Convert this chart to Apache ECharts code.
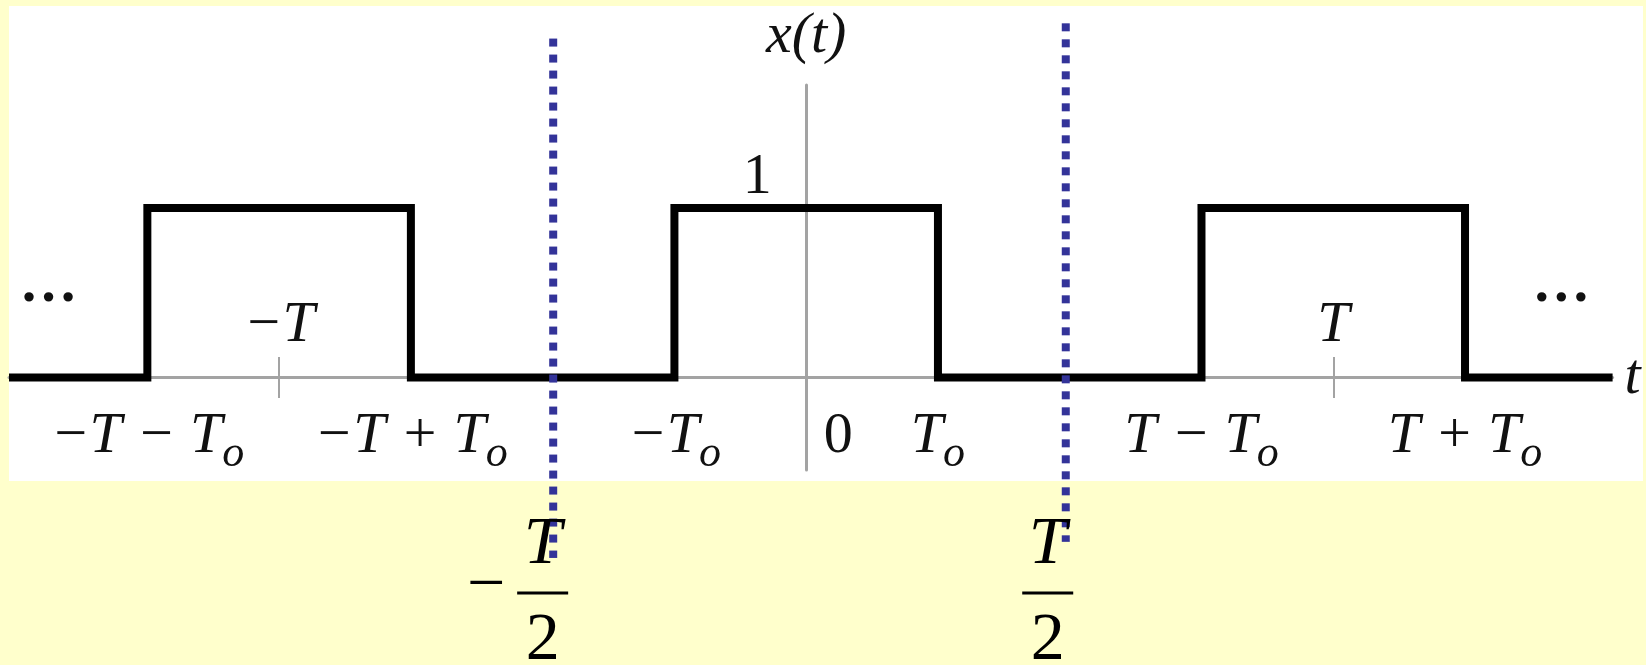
<!DOCTYPE html>
<html>
<head>
<meta charset="utf-8">
<title>x(t)</title>
<script src="https://cdn.jsdelivr.net/npm/echarts@6/dist/echarts.min.js"></script>
<style>
  html, body { margin: 0; padding: 0; background: #ffffcc; }
  #box { width: 1646px; height: 665px; }
</style>
</head>
<body>
<div id="box"></div>
<script>
// 方波 x(t)，横轴单位取 To = 1，于是 T = 4
var pulseT = [-6.05, -5, -5, -3, -3, -1, -1, 1, 1, 3, 3, 5, 5, 6.12];
var pulseX = [0, 0, 1, 1, 0, 0, 1, 1, 0, 0, 1, 1, 0, 0];

// 横轴下方的刻度文字
var edgeTicks = [-5, -3, -1, 0, 1, 3, 5];
var edgeLabels = [
    '{it|−T − T}{sub|o}', '{it|−T + T}{sub|o}', '{it|−T}{sub|o}', '{rm|0}',
    '{it|T}{sub|o}', '{it|T − T}{sub|o}', '{it|T + T}{sub|o}'
];

// 周期刻度 ±T
var periodTicks = [-4, 4];
var periodLabels = ['−T', 'T'];

// 虚线 ±T/2
var halfLineT = [-1.92, 1.97];
var halfLineTop = [2.0, 2.09];
var halfLineBottom = [-1.065, -0.97];
var halfTicks = [-2, 2];
var halfSigns = ['−', ''];

var ink = '#111';
var gray = '#a3a3a3';
var serif = '"Liberation Serif", "Times New Roman", serif';

var rich = {
    it: { fontFamily: serif, fontStyle: 'italic', fontSize: 58, color: ink },
    rm: { fontFamily: serif, fontSize: 58, color: ink },
    dots: { fontFamily: serif, fontWeight: 'bold', fontSize: 58, color: ink },
    sub: { fontFamily: serif, fontStyle: 'italic', fontSize: 44, color: ink, padding: [35, 0, 0, 0] },
    big: { fontFamily: serif, fontSize: 68, color: '#000' },
    num: { fontFamily: serif, fontStyle: 'italic', fontSize: 68, lineHeight: 93, color: '#000' },
    bar: { width: 51, height: 3, backgroundColor: '#000' },
    den: { fontFamily: serif, fontSize: 68, lineHeight: 93, color: '#000' }
};

function textItem(x, y, text, dx, dy) {
    return {
        value: [x, y],
        label: {
            show: true,
            position: 'inside',
            offset: [dx, dy],
            align: 'center',
            verticalAlign: 'middle',
            opacity: 1,
            formatter: function () { return text; },
            rich: rich
        }
    };
}

// 文字标注
var texts = [];
edgeTicks.forEach(function (t, i) {
    texts.push(textItem(t, 0, edgeLabels[i], t === 0 ? 32 : 0, 59));
});
periodTicks.forEach(function (t, i) {
    texts.push(textItem(t, 0, '{it|' + periodLabels[i] + '}', 0, -52));
});
halfTicks.forEach(function (t, i) {
    var dx = t > 0 ? -22 : 0;
    texts.push(textItem(t, 0, '{num|T}\n{bar|}\n{den|2}', dx, 215.5));
    if (halfSigns[i]) {
        texts.push(textItem(t, 0, '{big|' + halfSigns[i] + '}', dx - 56.5, 209.5));
    }
});
texts.push(textItem(0, 1, '{rm|1}', -49, -30));
texts.push(textItem(-5.75, 0, '{dots|…}', 0, -91));
texts.push(textItem(5.73, 0, '{dots|…}', 0, -91));

var series = [
    {
        name: 'x(t)',
        type: 'line',
        data: pulseT.map(function (t, i) { return [t, pulseX[i]]; }),
        symbol: 'none',
        clip: false,
        z: 3,
        lineStyle: { color: '#000', width: 8, cap: 'butt', join: 'miter' },
        markLine: {
            silent: true,
            symbol: ['none', 'none'],
            label: { show: false },
            lineStyle: { color: gray, width: 2, type: 'solid' },
            data: periodTicks.map(function (t) {
                return [{ coord: [t, 0.121] }, { coord: [t, -0.121] }];
            })
        }
    }
];

halfLineT.forEach(function (t, i) {
    series.push({
        type: 'line',
        data: [[t, halfLineTop[i]], [t, halfLineBottom[i]]],
        symbol: 'none',
        clip: false,
        z: 5,
        lineStyle: { color: '#333399', width: 8, type: [8, 8], cap: 'butt' }
    });
});

series.push({
    type: 'scatter',
    data: texts,
    symbolSize: 0,
    silent: true,
    z: 10,
    itemStyle: { color: 'transparent', opacity: 1 }
});

var myChart = echarts.init(document.getElementById('box'));
var option = {
    backgroundColor: '#ffffcc',
    animation: false,
    graphic: [{
        type: 'rect',
        z: -10,
        silent: true,
        shape: { x: 9, y: 6, width: 1634, height: 475 },
        style: { fill: '#fff' }
    }],
    grid: { left: 9, right: 33.4, top: 85, bottom: 195, outerBoundsMode: 'none' },
    xAxis: {
        type: 'value',
        min: -6.05,
        max: 6.12,
        name: 't',
        nameLocation: 'end',
        nameGap: 12,
        nameTextStyle: {
            fontFamily: serif, fontStyle: 'italic', fontSize: 58, color: ink,
            padding: [0, 0, 10, 0], verticalAlign: 'middle'
        },
        axisLine: { show: true, onZero: true, lineStyle: { color: gray, width: 3 } },
        axisTick: { show: false },
        axisLabel: { show: false },
        splitLine: { show: false }
    },
    yAxis: {
        type: 'value',
        min: -0.546,
        max: 1.726,
        name: 'x(t)',
        nameLocation: 'end',
        nameGap: 48,
        nameTextStyle: {
            fontFamily: serif, fontStyle: 'italic', fontSize: 58, color: ink,
            align: 'center', verticalAlign: 'middle'
        },
        axisLine: { show: true, onZero: true, lineStyle: { color: gray, width: 3 } },
        axisTick: { show: false },
        axisLabel: { show: false },
        splitLine: { show: false }
    },
    series: series
};
myChart.setOption(option);
</script>
</body>
</html>
